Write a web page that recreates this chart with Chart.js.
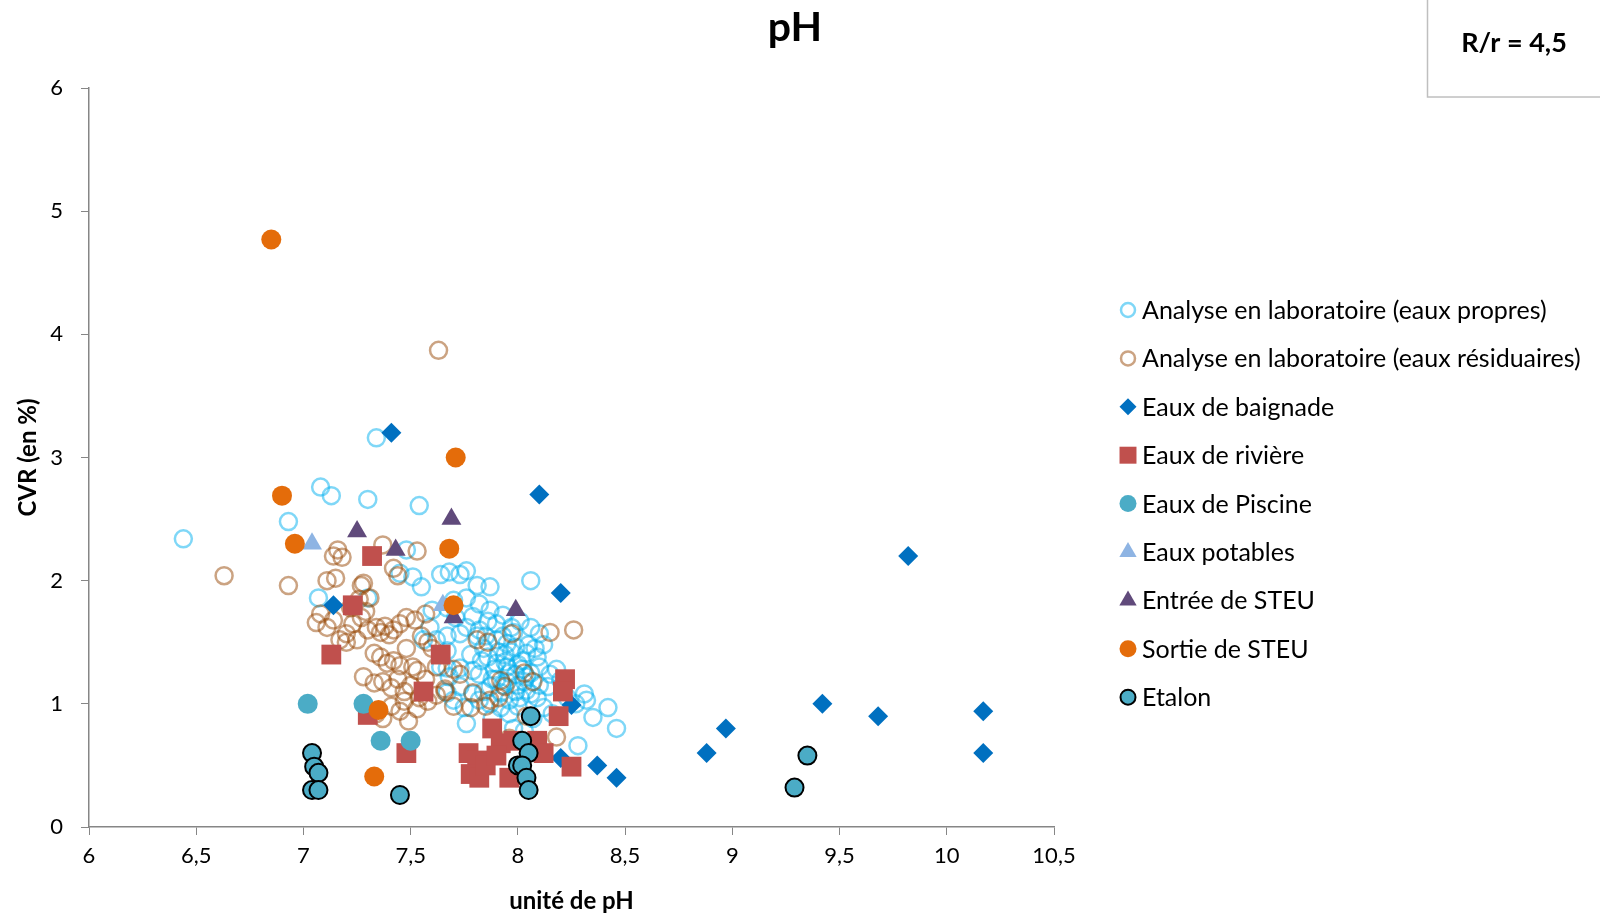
<!DOCTYPE html>
<html lang="fr">
<head>
    <meta charset="UTF-8">
    <title>pH</title>
    <style>
        html, body { margin: 0; padding: 0; background: #fff; }
        #wrap { position: relative; width: 1600px; height: 917px; }
    </style>
</head>
<body>
    <div id="wrap"><canvas id="phChart" width="1600" height="917"></canvas></div>

    <script src="https://cdn.jsdelivr.net/npm/chart.js"></script>
    <script>
        // Analyse en laboratoire (eaux propres)
        const propresPH = [6.44, 6.93, 7.08, 7.13, 7.30, 7.34, 7.54, 7.07, 7.30, 7.45, 7.48, 7.51, 7.55, 7.64, 7.68, 7.73, 7.76, 7.81, 7.87, 8.06,
            7.60, 7.67, 7.70, 7.76, 7.82, 7.87, 7.79, 7.86, 7.90, 7.82, 7.76, 7.73, 7.59, 7.62, 7.56, 7.67, 7.67, 7.81, 7.90, 7.95,
            7.99, 8.04, 8.09, 8.06, 8.10, 8.01, 7.86, 7.90, 7.95, 7.99, 8.04, 7.64, 7.68, 7.73, 7.67, 7.73, 7.79, 7.82, 7.87, 7.92,
            7.96, 8.01, 7.67, 7.70, 7.79, 7.75, 7.76, 7.87, 7.92, 7.96, 7.82, 8.10, 8.15, 8.20, 8.14, 8.04, 8.09, 8.23, 8.27, 8.32,
            8.31, 8.35, 8.42, 8.46, 8.28, 7.88, 7.98, 8.03, 7.94, 7.98, 8.02, 7.84, 7.78, 8.12, 8.06, 8.00, 7.95, 8.12, 7.71, 7.93,
            8.18, 8.16, 7.88, 7.84, 8.07, 7.93, 7.97, 8.00, 7.91, 7.96, 8.03, 8.05, 7.89, 7.99, 8.06, 7.93, 8.00, 7.85, 7.97, 8.08,
            7.90, 8.02, 7.94, 8.10, 7.83];
        const propresCVR = [2.34, 2.48, 2.76, 2.69, 2.66, 3.16, 2.61, 1.86, 1.86, 2.06, 2.25, 2.03, 1.95, 2.05, 2.07, 2.05, 2.08, 1.96, 1.95, 2.00,
            1.76, 1.78, 1.84, 1.86, 1.81, 1.76, 1.71, 1.67, 1.65, 1.60, 1.62, 1.57, 1.62, 1.52, 1.52, 1.43, 1.55, 1.55, 1.52, 1.49,
            1.46, 1.41, 1.38, 1.62, 1.57, 1.67, 1.38, 1.33, 1.30, 1.24, 1.22, 1.30, 1.22, 1.14, 1.29, 1.29, 1.27, 1.24, 1.14, 1.09,
            1.03, 1.05, 1.09, 1.03, 1.08, 0.97, 0.84, 1.00, 0.97, 0.92, 1.03, 1.30, 1.24, 1.19, 1.14, 1.11, 1.05, 1.05, 1.00, 1.03,
            1.08, 0.89, 0.97, 0.80, 0.66, 0.88, 0.80, 0.78, 1.40, 1.58, 1.35, 1.45, 1.40, 1.48, 1.25, 1.15, 1.18, 0.97, 1.70, 1.72,
            1.28, 0.92, 1.20, 1.10, 0.88, 1.55, 1.42, 1.32, 1.42, 1.25, 1.18, 1.48, 1.28, 1.10, 1.08, 1.15, 0.98, 1.55, 1.62, 1.45,
            1.20, 1.28, 1.34, 1.15, 1.35];

        // Analyse en laboratoire (eaux résiduaires)
        const residPH = [6.63, 6.93, 7.63, 8.26, 8.15, 7.14, 7.16, 7.18, 7.37, 7.53, 7.42, 7.44, 7.11, 7.15, 7.27, 7.28, 7.26, 7.31, 7.08, 7.06,
            7.11, 7.14, 7.20, 7.20, 7.25, 7.27, 7.29, 7.34, 7.36, 7.38, 7.40, 7.42, 7.45, 7.33, 7.36, 7.39, 7.42, 7.45, 7.51, 7.53,
            7.57, 7.52, 7.58, 7.33, 7.37, 7.41, 7.44, 7.47, 7.50, 7.54, 7.58, 7.62, 7.66, 7.34, 7.37, 7.41, 7.45, 7.49, 7.53, 7.81,
            7.86, 7.97, 7.92, 7.94, 8.03, 8.07, 7.73, 7.79, 7.87, 7.91, 7.66, 7.78, 8.18, 7.62, 7.70, 7.60, 7.55, 7.48, 7.22, 7.30,
            7.48, 7.57, 7.70, 8.04, 7.96, 7.85, 7.17, 7.23, 7.47, 7.28];
        const residCVR = [2.04, 1.96, 3.87, 1.60, 1.58, 2.20, 2.25, 2.19, 2.29, 2.24, 2.10, 2.04, 2.00, 2.02, 1.96, 1.98, 1.85, 1.86, 1.73, 1.66,
            1.62, 1.68, 1.57, 1.50, 1.52, 1.70, 1.75, 1.62, 1.58, 1.63, 1.56, 1.60, 1.65, 1.41, 1.38, 1.33, 1.35, 1.31, 1.30, 1.27,
            1.73, 1.68, 1.50, 1.17, 1.18, 1.13, 1.20, 1.10, 1.15, 1.05, 1.02, 1.07, 1.12, 0.92, 0.88, 0.98, 0.94, 0.86, 0.96, 1.52,
            1.50, 1.57, 1.19, 1.14, 1.25, 1.18, 1.24, 1.09, 1.03, 1.05, 1.10, 0.97, 0.73, 1.30, 1.28, 1.45, 1.55, 1.45, 1.78, 1.60,
            1.70, 1.20, 0.98, 0.90, 0.72, 0.98, 1.52, 1.65, 1.02, 1.22];

        // Eaux de baignade
        const baignadePH = [7.41, 8.10, 9.82, 8.20, 7.14, 9.42, 8.25, 10.17, 9.68, 8.97, 8.88, 10.17, 8.20, 8.37, 8.46];
        const baignadeCVR = [3.20, 2.70, 2.20, 1.90, 1.80, 1.00, 0.99, 0.94, 0.90, 0.80, 0.60, 0.60, 0.56, 0.50, 0.40];

        // Eaux de rivière
        const riviere_PH = [7.32, 7.23, 7.13, 7.64, 7.56, 8.22, 8.21, 7.30, 7.48, 8.19, 7.88, 7.77, 7.81, 7.78, 7.82, 7.85, 7.96, 7.98, 8.09, 8.12,
            8.25, 7.92, 7.90];
        const riviereCVR = [2.20, 1.80, 1.40, 1.40, 1.10, 1.20, 1.10, 0.91, 0.60, 0.90, 0.80, 0.60, 0.54, 0.43, 0.40, 0.50, 0.40, 0.70, 0.70, 0.60,
            0.49, 0.68, 0.58];

        // Eaux de Piscine
        const piscinePH = [7.02, 7.28, 7.36, 7.50];
        const piscineCVR = [1.00, 1.00, 0.70, 0.70];

        // Eaux potables
        const potablesPH = [7.04, 7.65];
        const potablesCVR = [2.30, 1.80];

        // Entrée de STEU
        const entreePH = [7.25, 7.43, 7.69, 7.70, 7.99];
        const entreeCVR = [2.40, 2.25, 2.50, 1.70, 1.76];

        // Sortie de STEU
        const sortiePH = [6.85, 6.90, 6.96, 7.71, 7.68, 7.70, 7.35, 7.33];
        const sortieCVR = [4.77, 2.69, 2.30, 3.00, 2.26, 1.80, 0.95, 0.41];

        // Etalon
        const etalonPH = [7.04, 7.05, 7.07, 7.04, 7.07, 7.45, 8.06, 8.02, 8.05, 8.00, 8.02, 8.04, 8.05, 9.35, 9.29];
        const etalonCVR = [0.60, 0.49, 0.44, 0.30, 0.30, 0.26, 0.90, 0.70, 0.60, 0.50, 0.50, 0.40, 0.30, 0.58, 0.32];

        const FONT = 'Lato, "Open Sans", sans-serif';

        function pts(xs, ys) {
            return xs.map((x, i) => ({ x: x, y: ys[i] }));
        }

        function series(label, xs, ys, style, radius, fill, stroke, bw, order, legendRadius) {
            return {
                label: label,
                data: pts(xs, ys),
                pointStyle: style,
                pointRadius: radius,
                pointHoverRadius: radius,
                pointBackgroundColor: fill,
                pointBorderColor: stroke,
                pointBorderWidth: bw,
                pointHoverBorderWidth: bw,
                backgroundColor: fill,
                borderColor: stroke,
                showLine: false,
                order: order,
                legendRadius: legendRadius
            };
        }

        const datasets = [
            series('Analyse en laboratoire (eaux propres)', propresPH, propresCVR, 'circle', 8.5, 'rgba(0,0,0,0)', 'rgba(0,176,240,0.5)', 2.5, 9, 7),
            series('Analyse en laboratoire (eaux résiduaires)', residPH, residCVR, 'circle', 8.5, 'rgba(0,0,0,0)', 'rgba(151,72,6,0.5)', 2.5, 8, 7),
            series('Eaux de baignade', baignadePH, baignadeCVR, 'rectRot', 10, '#0070C0', '#0070C0', 0, 7, 8.5),
            series('Eaux de rivière', riviere_PH, riviereCVR, 'rect', 14, '#C0504D', '#C0504D', 0, 6, 12),
            series('Eaux de Piscine', piscinePH, piscineCVR, 'circle', 10, '#4BACC6', '#4BACC6', 0, 5, 8.5),
            series('Eaux potables', potablesPH, potablesCVR, 'triangle', 11.5, '#8EB4E3', '#8EB4E3', 0, 4, 10),
            series('Entrée de STEU', entreePH, entreeCVR, 'triangle', 11.5, '#604A7B', '#604A7B', 0, 3, 10),
            series('Sortie de STEU', sortiePH, sortieCVR, 'circle', 10, '#E46C0A', '#E46C0A', 0, 2, 8.5),
            series('Etalon', etalonPH, etalonCVR, 'circle', 9, '#4BACC6', '#000000', 2, 1, 7.5)
        ];

        // titre, légende à droite et cartouche R/r dessinés à la main
        const sideLegend = {
            id: 'sideLegend',
            afterDraw(chart) {
                const ctx = chart.ctx;
                ctx.save();

                ctx.fillStyle = '#000';
                ctx.font = 'bold 41px ' + FONT;
                ctx.textAlign = 'center';
                ctx.textBaseline = 'middle';
                ctx.fillText('pH', 795, 28);

                ctx.font = '25px ' + FONT;
                ctx.textAlign = 'left';
                chart.data.datasets.forEach((ds, i) => {
                    const y = 310 + i * 48.4;
                    ctx.fillStyle = ds.pointBackgroundColor;
                    ctx.strokeStyle = ds.pointBorderColor;
                    ctx.lineWidth = ds.pointBorderWidth;
                    Chart.helpers.drawPoint(ctx, {
                        pointStyle: ds.pointStyle,
                        radius: ds.legendRadius,
                        rotation: 0,
                        borderWidth: ds.pointBorderWidth
                    }, 1128, y);
                    ctx.fillStyle = '#000';
                    ctx.fillText(ds.label, 1142, y + 1);
                });

                // cartouche en haut à droite
                ctx.strokeStyle = '#BFBFBF';
                ctx.lineWidth = 1.5;
                ctx.strokeRect(1427.5, -2, 200, 99);
                ctx.fillStyle = '#000';
                ctx.font = 'bold 27px ' + FONT;
                ctx.textAlign = 'center';
                ctx.fillText('R/r = 4,5', 1514, 43);
                ctx.restore();
            }
        };

        const axisColor = '#868686';

        new Chart(document.getElementById('phChart'), {
            type: 'scatter',
            data: { datasets: datasets },
            plugins: [sideLegend],
            options: {
                responsive: false,
                animation: false,
                devicePixelRatio: 1,
                layout: { padding: { top: 88, left: 0, right: 546, bottom: 0 } },
                plugins: {
                    legend: { display: false },
                    tooltip: { enabled: false },
                    title: { display: false }
                },
                scales: {
                    x: {
                        type: 'linear',
                        min: 6,
                        max: 10.5,
                        afterFit: s => { s.height = 90; },
                        ticks: {
                            stepSize: 0.5,
                            color: '#000',
                            padding: 8,
                            font: { family: FONT, size: 22 },
                            callback: v => String(v).replace('.', ',')
                        },
                        grid: { drawOnChartArea: false, drawTicks: true, tickLength: 8, color: axisColor },
                        border: { color: axisColor, width: 1.5 },
                        title: {
                            display: true,
                            text: 'unité de pH',
                            color: '#000',
                            font: { family: FONT, size: 24, weight: 'bold' },
                            padding: { top: 4, bottom: 1 }
                        }
                    },
                    y: {
                        type: 'linear',
                        min: 0,
                        max: 6,
                        afterFit: s => { s.width = 89; },
                        ticks: {
                            stepSize: 1,
                            color: '#000',
                            padding: 18,
                            font: { family: FONT, size: 22 }
                        },
                        grid: { drawOnChartArea: false, drawTicks: true, tickLength: 8, color: axisColor },
                        border: { color: axisColor, width: 1.5 },
                        title: {
                            display: true,
                            text: 'CVR (en %)',
                            color: '#000',
                            font: { family: FONT, size: 24, weight: 'bold' },
                            padding: { top: 14, bottom: 0 }
                        }
                    }
                }
            }
        });
    </script>
</body>
</html>
